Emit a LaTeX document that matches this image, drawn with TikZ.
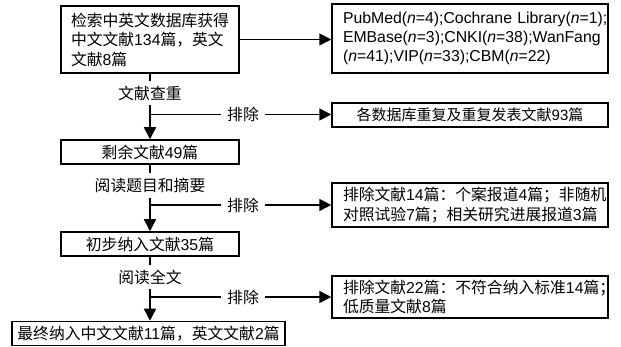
\documentclass[tikz,border=0pt]{standalone}
\usepackage{fontspec}
\setmainfont{Noto Sans CJK SC}
\newfontfamily\lat{Liberation Sans}
\usetikzlibrary{arrows.meta}
\newcommand\ltn[1]{{\lat #1}}
\newcommand\nvar{{\lat\itshape n}}
\begin{document}
\begin{tikzpicture}[x=1pt,y=-1pt,
  every node/.style={font=\fontsize{15.8}{19.5}\selectfont},
  box/.style={draw, line width=1.5pt, inner ysep=0pt, inner xsep=0pt},
  lbox/.style={box, align=left},
  lab/.style={inner xsep=2pt, inner ysep=4.5pt},
  exl/.style={inner xsep=6pt, inner ysep=2pt},
  ln/.style={line width=1.5pt},
  arr/.style={line width=1.5pt, -{Triangle[length=12pt,width=12pt]}}]
\useasboundingbox (0,0) rectangle (621,347);

% main column
\node[lbox, text width=158pt, inner xsep=10pt, minimum height=67pt] (b1) at (150,39.5)
  {检索中英文数据库获得\\中文文献\ltn{134}篇，英文\\文献\ltn{8}篇};
\node[box, minimum width=178pt, minimum height=24pt] (b2) at (150,152) {剩余文献\ltn{49}篇};
\node[box, minimum width=178pt, minimum height=24pt] (b3) at (150,244) {初步纳入文献\ltn{35}篇};
\node[box, minimum width=273pt, minimum height=24pt] (b4) at (148.5,333.5) {最终纳入中文文献\ltn{11}篇，英文文献\ltn{2}篇};

% step labels
\node[lab] (l1) at (150,93) {文献查重};
\node[lab] (l2) at (150,185.5) {阅读题目和摘要};
\node[lab] (l3) at (150,277) {阅读全文};

% junctions and exclusion labels
\coordinate (j1) at (150,114.5);
\coordinate (j2) at (150,205);
\coordinate (j3) at (150,297);
\node[exl] (e1) at (243,114.5) {排除};
\node[exl] (e2) at (243,205) {排除};
\node[exl] (e3) at (243,297) {排除};

% right column
\node[lbox, text width=254pt, inner xsep=11pt, minimum height=69pt,
      font=\fontsize{15.8}{19}\selectfont\lat] (r1) at (470,38.5)
  {\mbox{PubMed(\nvar=4);Cochrane Library(\nvar=1);}\\EMBase(\nvar=3);CNKI(\nvar=38);WanFang\\(\nvar=41);VIP(\nvar=33);CBM(\nvar=22)};
\node[box, minimum width=276pt, minimum height=24pt, font=\fontsize{15}{19}\selectfont] (r2) at (470,115)
  {各数据库重复及重复发表文献\ltn{93}篇};
\node[lbox, text width=254pt, inner xsep=11pt, minimum height=44pt] (r3) at (470,205)
  {\mbox{排除文献\ltn{14}篇：个案报道\ltn{4}篇；非随机}\\\mbox{对照试验\ltn{7}篇；相关研究进展报道\ltn{3}篇}};
\node[lbox, text width=254pt, inner xsep=11pt, minimum height=42pt] (r4) at (470,297)
  {\mbox{排除文献\ltn{22}篇：不符合纳入标准\ltn{14}篇；}\\低质量文献\ltn{8}篇};

% connectors
\draw[ln] (b1) -- (l1);
\draw[arr] (l1) -- (b2);
\draw[ln] (b2) -- (l2);
\draw[arr] (l2) -- (b3);
\draw[ln] (b3) -- (l3);
\draw[arr] (l3) -- (b4.north -| l3);
\draw[arr] (b1.east) -- (b1.east -| r1.west);
\draw[ln] (j1) -- (e1);
\draw[arr] (e1) -- (e1 -| r2.west);
\draw[ln] (j2) -- (e2);
\draw[arr] (e2) -- (e2 -| r3.west);
\draw[ln] (j3) -- (e3);
\draw[arr] (e3) -- (e3 -| r4.west);
\end{tikzpicture}
\end{document}
